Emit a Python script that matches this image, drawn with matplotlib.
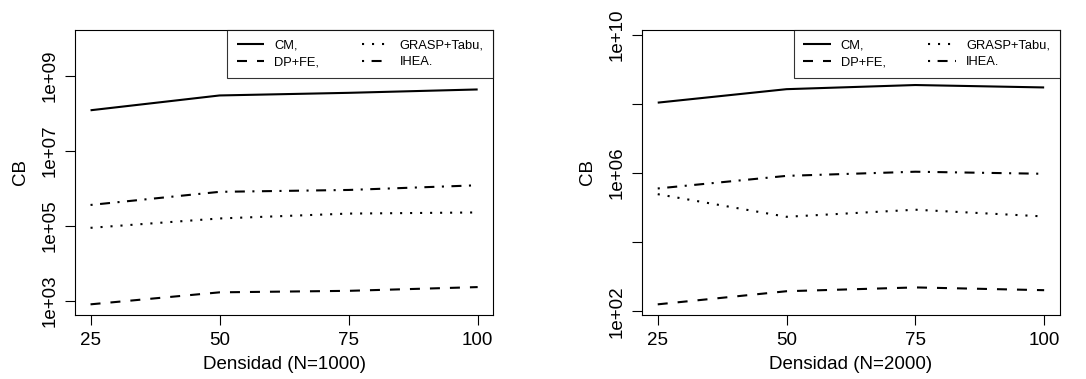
"""Two-panel log-scale line chart of CB vs Densidad (N=1000 / N=2000)."""

import matplotlib
matplotlib.use("Agg")
import matplotlib.pyplot as plt
import numpy as np

plt.rcParams['font.family'] = ['Liberation Sans', 'DejaVu Sans']

densidad = [25, 50, 75, 100]
series_names = ["CM,", "DP+FE,", "GRASP+Tabu,", "IHEA."]

# log10 of CB values
n1000_cm = [8.085, 8.48, 8.55, 8.64]
n1000_dp = [2.91, 3.23, 3.27, 3.37]
n1000_grasp = [4.95, 5.20, 5.33, 5.36]
n1000_ihea = [5.56, 5.91, 5.96, 6.085]

n2000_cm = [8.04, 8.43, 8.55, 8.48]
n2000_dp = [2.20, 2.58, 2.69, 2.61]
n2000_grasp = [5.39, 4.735, 4.94, 4.745]
n2000_ihea = [5.555, 5.92, 6.04, 5.98]

# R-like lty: solid, dashed, dotted, dotdash
styles = [(0, ()), (0, (4.8, 4.8)), (0, (1, 3.8)), (0, (1, 3.6, 4.8, 3.6))]

panels = [
    dict(rect=[0.0691, 0.169, 0.385, 0.752],
         data=[n1000_cm, n1000_dp, n1000_grasp, n1000_ihea],
         ylim=(10 ** 2.627, 10 ** 10.227),
         yticks=[1e3, 1e5, 1e7, 1e9],
         ylabels=["1e+03", "1e+05", "1e+07", "1e+09"],
         xlabel="Densidad (N=1000)"),
    dict(rect=[0.5914, 0.169, 0.3843, 0.752],
         data=[n2000_cm, n2000_dp, n2000_grasp, n2000_ihea],
         ylim=(10 ** 1.893, 10 ** 10.145),
         yticks=[1e2, 1e4, 1e6, 1e8, 1e10],
         ylabels=["1e+02", "", "1e+06", "", "1e+10"],
         xlabel="Densidad (N=2000)"),
]

fig = plt.figure(figsize=(10.86, 3.79), dpi=100)

for p in panels:
    ax = fig.add_axes(p["rect"])
    for vals, name, ls in zip(p["data"], series_names, styles):
        ax.plot(densidad, 10 ** np.array(vals), color='black', lw=1.5,
                linestyle=ls, label=name, solid_capstyle='butt',
                dash_capstyle='butt')
    ax.set_yscale('log')
    ax.set_xlim(22, 103)
    ax.set_ylim(*p["ylim"])
    ax.set_xticks(densidad)
    ax.set_xticklabels([str(d) for d in densidad])
    ax.set_yticks(p["yticks"])
    ax.set_yticklabels(p["ylabels"], rotation=90, va='center')
    ax.minorticks_off()
    ax.tick_params(axis='both', direction='out', length=7, width=0.8,
                   labelsize=13.5, color='black')
    ax.tick_params(axis='x', pad=5)
    ax.tick_params(axis='y', pad=5)
    for s in ax.spines.values():
        s.set_linewidth(0.8)
    ax.set_xlabel(p["xlabel"], fontsize=13.5, labelpad=5)
    ax.set_ylabel("CB", fontsize=13.5, labelpad=9)

    leg = ax.legend(ncol=2, loc='upper right', bbox_to_anchor=(1, 1),
                    borderaxespad=0, fancybox=False, fontsize=9.3,
                    handlelength=2.1, handletextpad=0.8, columnspacing=3.3,
                    labelspacing=0.35, borderpad=0.75)
    leg.get_frame().set_edgecolor('black')
    leg.get_frame().set_linewidth(0.8)

fig.savefig("out.png", dpi=100)
